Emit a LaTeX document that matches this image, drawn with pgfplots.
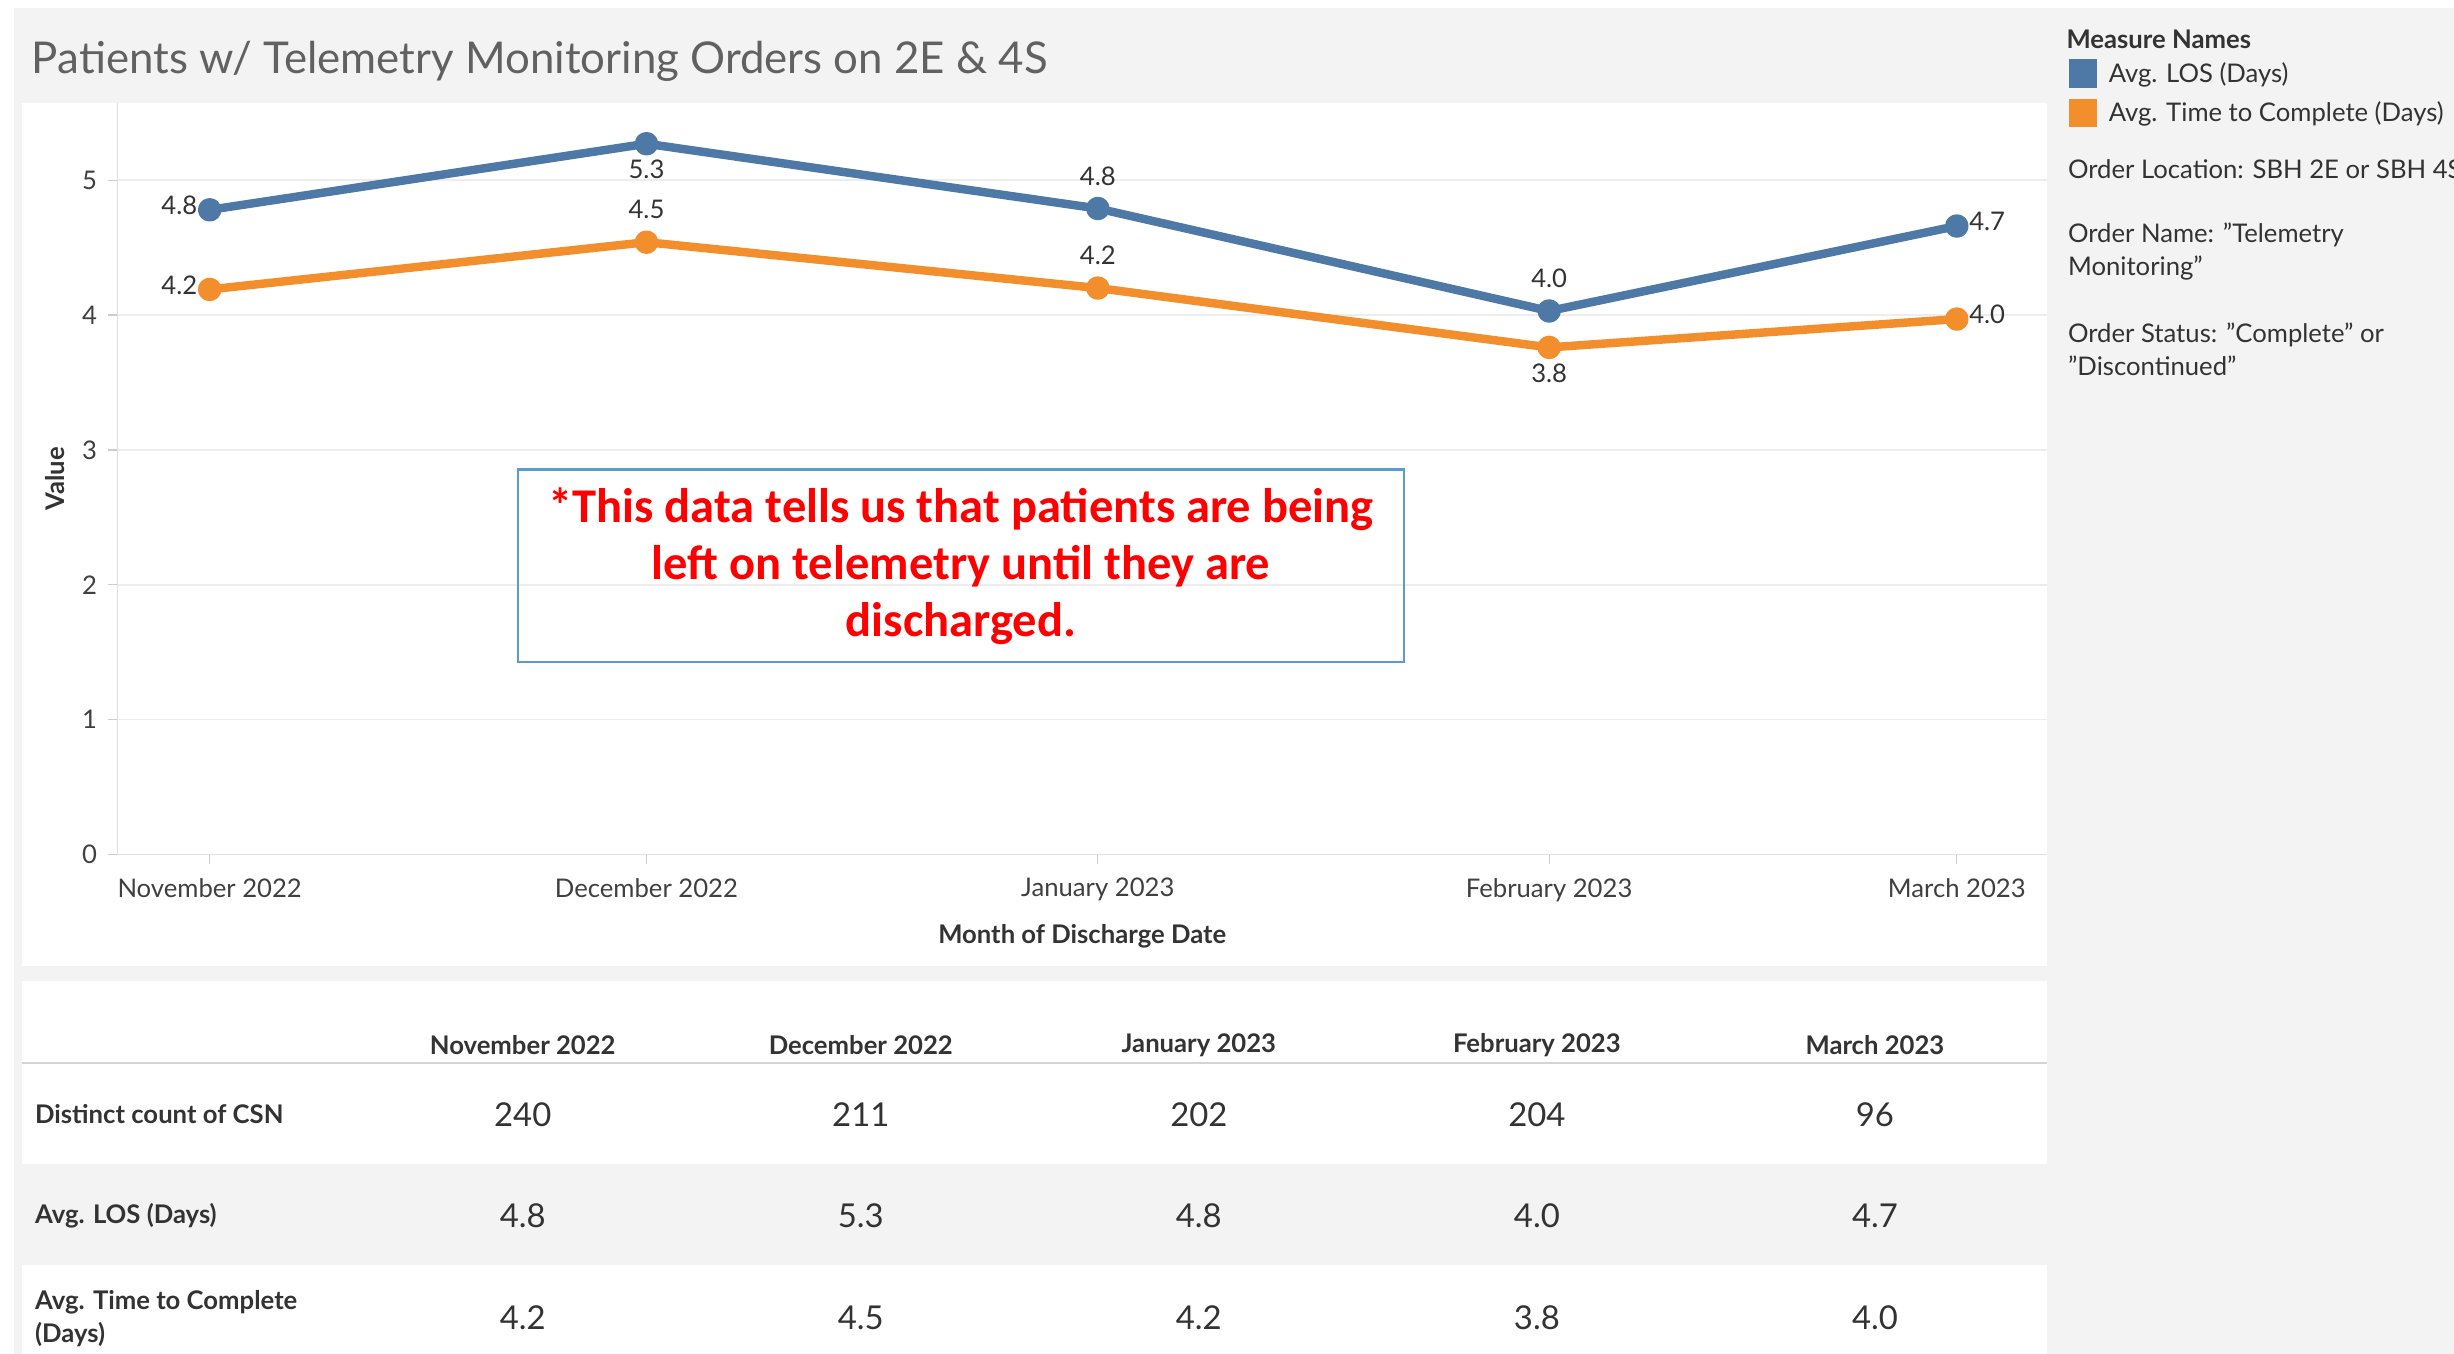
\documentclass[border=0pt]{standalone}
\usepackage{pgfplots}
\pgfplotsset{compat=1.18}
\usepackage{pgfplotstable}
\usepackage{fontspec}
\setmainfont{Lato}
\newfontfamily\carlito{Carlito}
\definecolor{losblue}{HTML}{4E79A7}
\definecolor{tcorange}{HTML}{F28E2B}
\definecolor{bggrey}{HTML}{F3F3F3}
\definecolor{txt}{HTML}{333333}
\definecolor{boxblue}{HTML}{5B9BD5}
\definecolor{annred}{HTML}{FF0000}
\pgfkeys{/pgf/number format/assume math mode=true}

% x = days since 1 Nov 2022 (month starts)
\pgfplotstableread{
x y
0 4.78
30 5.27
61 4.79
92 4.03
120 4.66
}\losdata
\pgfplotstableread{
x y
0 4.19
30 4.54
61 4.20
92 3.76
120 3.97
}\tcdata

\newcommand{\sz}[1]{\fontsize{#1}{#1}\selectfont}

\begin{document}
\begin{tikzpicture}
\useasboundingbox (0pt,0pt) rectangle (784pt,-432.5pt);
\clip (0pt,0pt) rectangle (784pt,-432.5pt);
\begin{scope}[x=0.5pt,y=-0.5pt, every node/.style={inner sep=0pt, text=txt}]
  \fill[white] (0,0) rectangle (1568,865);
  \fill[bggrey] (9,5) rectangle (1568,865);
  \fill[white] (14,66) rectangle (1308,617);
  \fill[white] (14,627) rectangle (1308,865);
  \fill[bggrey] (14,744) rectangle (1308,808);
  \draw[black!17, line width=0.7pt] (14,679) -- (1308,679);
  % title
  \node[anchor=west, text=black!62, font=\sz{14}] at (20,39) {Patients w/ Telemetry Monitoring Orders on 2E \& 4S};
  % legend / filters
  \node[anchor=west, font=\sz{8.2}\bfseries] at (1320,25) {Measure Names};
  \fill[losblue] (1322,38) rectangle (1340,56);
  \node[anchor=west, font=\sz{8.2}] at (1347,48) {Avg. LOS (Days)};
  \fill[tcorange] (1322,63) rectangle (1340,81);
  \node[anchor=west, font=\sz{8.2}] at (1347,73) {Avg. Time to Complete (Days)};
  \node[anchor=west, font=\sz{8.2}] at (1321,108) {Order Location: SBH 2E or SBH 4S};
  \node[anchor=west, font=\sz{8.2}] at (1321,150) {Order Name: ''Telemetry};
  \node[anchor=west, font=\sz{8.2}] at (1321,171) {Monitoring''};
  \node[anchor=west, font=\sz{8.2}] at (1321,214) {Order Status: ''Complete'' or};
  \node[anchor=west, font=\sz{8.2}] at (1321,234) {''Discontinued''};
  % table
  \foreach \xx/\mm in {334/November 2022, 550/December 2022, 766/January 2023, 982/February 2023, 1198/March 2023}
    \node[font=\sz{8.2}\bfseries] at (\xx,668) {\mm};
  \node[anchor=west, font=\sz{8.2}\bfseries] at (22,712) {Distinct count of CSN};
  \node[anchor=west, font=\sz{8.2}\bfseries] at (22,777) {Avg. LOS (Days)};
  \node[anchor=west, font=\sz{8.2}\bfseries] at (22,832) {Avg. Time to Complete};
  \node[anchor=west, font=\sz{8.2}\bfseries] at (22,853) {(Days)};
  \foreach \xx/\a/\b/\c in {334/240/4.8/4.2, 550/211/5.3/4.5, 766/202/4.8/4.2, 982/204/4.0/3.8, 1198/96/4.7/4.0}{
    \node[font=\sz{10.5}] at (\xx,712) {\a};
    \node[font=\sz{10.5}] at (\xx,777) {\b};
    \node[font=\sz{10.5}] at (\xx,842) {\c};
  }
\end{scope}
\begin{axis}[
  at={(37.5pt,-273pt)}, anchor=south west, scale only axis,
  width=616.5pt, height=240pt,
  xmin=-6.34, xmax=126.2, ymin=0, ymax=5.57,
  axis lines=left, axis line style={draw=black!12, -},
  clip=false,
  xtick={0,30,61,92,120},
  xticklabels={November 2022, December 2022, January 2023, February 2023, March 2023},
  ytick={0,1,2,3,4,5},
  tick align=outside, major tick length=3pt,
  tick style={black!20, line width=0.4pt},
  ymajorgrids, grid style={black!7, line width=0.5pt},
  ticklabel style={font=\sz{8.2}, text=black!75},
  xticklabel style={yshift=-1pt},
  xlabel={Month of Discharge Date},
  ylabel={Value},
  xlabel style={font=\sz{8.2}\bfseries, text=txt, at={(axis description cs:0.5,0)}, anchor=center, yshift=-26pt},
  ylabel style={font=\sz{8.2}\bfseries, text=txt, at={(axis description cs:-0.0324,0.5)}, anchor=center},
  nodes near coords={\pgfmathprintnumber[fixed,fixed zerofill,precision=1]{\pgfplotspointmeta}},
  every node near coord/.append style={font=\sz{8.2}, text=black!80, inner sep=0pt, anchor=south},
]
\addplot[losblue, line width=2.7pt, line join=round, mark=*, mark size=2.4pt,
  coordinate style/.condition={\coordindex==0}{xshift=-9.7pt, yshift=-2.95pt},
  coordinate style/.condition={\coordindex==1}{yshift=-12.6pt},
  coordinate style/.condition={\coordindex==2}{yshift=6pt},
  coordinate style/.condition={\coordindex==3}{yshift=6pt},
  coordinate style/.condition={\coordindex==4}{xshift=9.7pt, yshift=-2.95pt}]
  table[x=x,y=y] {\losdata};
\addplot[tcorange, line width=2.7pt, line join=round, mark=*, mark size=2.4pt,
  coordinate style/.condition={\coordindex==0}{xshift=-9.7pt, yshift=-2.95pt},
  coordinate style/.condition={\coordindex==1}{yshift=6pt},
  coordinate style/.condition={\coordindex==2}{yshift=6pt},
  coordinate style/.condition={\coordindex==3}{yshift=-12.6pt},
  coordinate style/.condition={\coordindex==4}{xshift=9.7pt, yshift=-2.95pt}]
  table[x=x,y=y] {\tcdata};
\end{axis}
\begin{scope}[x=0.5pt,y=-0.5pt]
  \draw[boxblue, line width=0.8pt] (331,300) rectangle (897,423);
  \node[align=center, inner sep=0pt, text=annred, font=\carlito\bfseries\fontsize{15.5}{18.25}\selectfont] at (614,362)
    {*This data tells us that patients are being\\left on telemetry until they are\\discharged.};
\end{scope}
\end{tikzpicture}
\end{document}
